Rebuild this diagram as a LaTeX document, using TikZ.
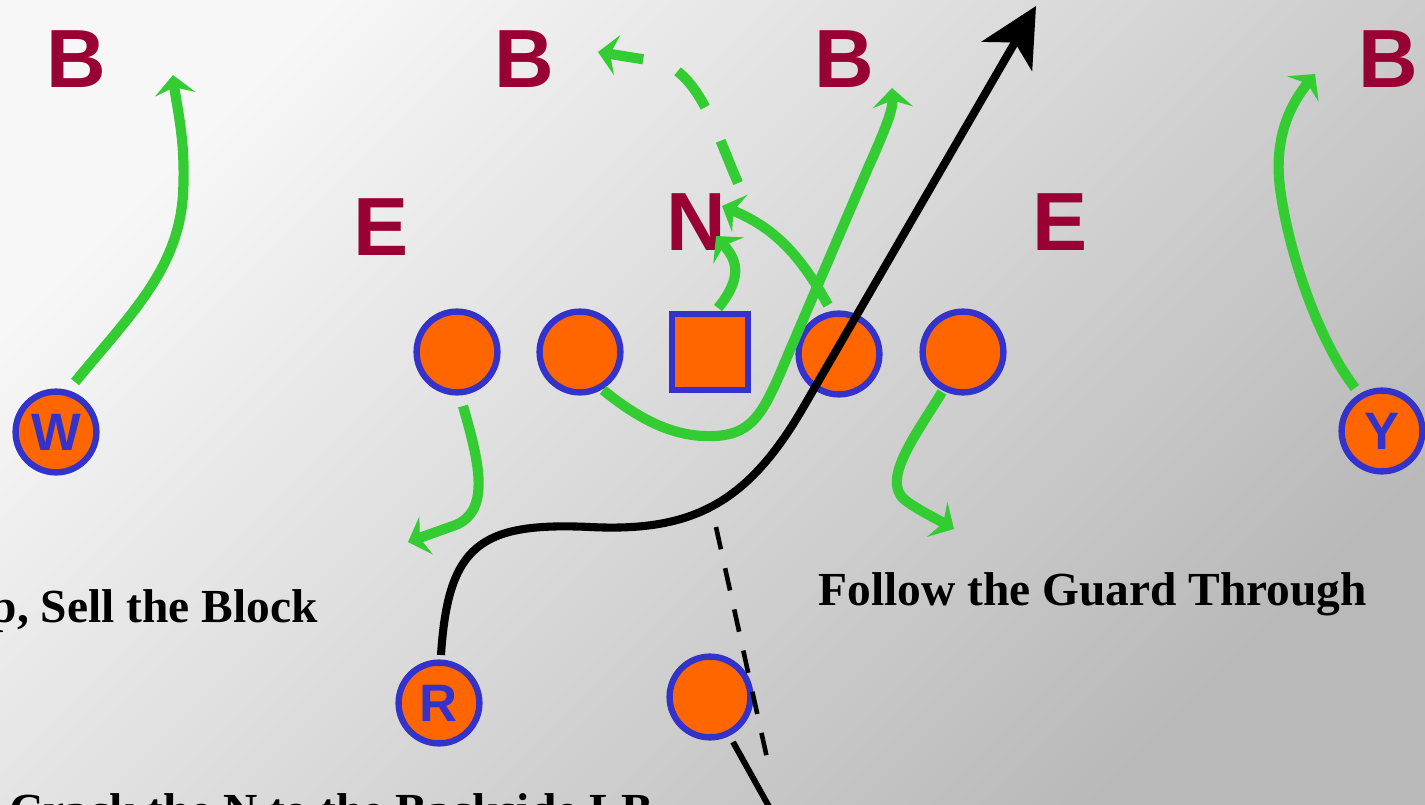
\documentclass[tikz,border=0pt]{standalone}
\usepackage{fontspec}
\setmainfont{Liberation Serif}
\newfontfamily\arialfont{Liberation Sans}
\usetikzlibrary{arrows.meta,calc}
\definecolor{maroon}{HTML}{990033}
\definecolor{rgreen}{HTML}{33CC33}
\definecolor{porange}{HTML}{FF6600}
\definecolor{pblue}{HTML}{3333CC}
\definecolor{bglight}{RGB}{247,247,247}
\definecolor{bgdark}{RGB}{185,185,185}
\begin{document}
\begin{tikzpicture}[x=0.02cm,y=-0.02cm,
  player/.style={circle,fill=porange,draw=pblue,line width=3.6pt,minimum size=46pt,inner sep=0pt,text=pblue,font=\arialfont\bfseries\fontsize{30}{30}\selectfont},
  centerbox/.style={player,rectangle,minimum size=43pt},
  defender/.style={text=maroon,font=\arialfont\bfseries\fontsize{47}{47}\selectfont,inner sep=0pt,anchor=base},
  route/.style={rgreen,line width=5.8pt,-{Stealth[length=11pt,width=23pt,inset=4pt]}},
  dashroute/.style={route,dash pattern=on 26pt off 21pt},
  ballpath/.style={black,line width=4.6pt,-{Stealth[length=33pt,width=33pt,inset=9pt]}},
  note/.style={font=\bfseries\fontsize{27}{27}\selectfont,inner sep=0pt,text=black}]
\clip (0,0) rectangle (1425,804);
\shade[top color=bglight,bottom color=bgdark,shading angle=45] (0,0) rectangle (1425,804);

% defenders
\node[defender] (b1) at (76,88) {B};
\node[defender] (b2) at (524,88) {B};
\node[defender] (b3) at (844,88) {B};
\node[defender] (b4) at (1388,88) {B};
\node[defender] (e1) at (381,255) {E};
\node[defender] (n) at (696,250) {N};
\node[defender] (e2) at (1060,250) {E};

% offense
\node[player] (w) at (56,432) {W};
\node[player] (lt) at (457,352) {};
\node[player] (lg) at (580,352) {};
\node[centerbox] (c) at (710,352) {};
\node[player] (rg) at (839,354) {};
\node[player] (rt) at (963,352) {};
\node[player] (y) at (1382,431) {Y};
\node[player] (r) at (439,703) {R};
\node[player] (qb) at (710,697) {};

% route end points
\coordinate (tW) at (173,75);
\coordinate (tLT) at (408,542);
\coordinate (tLG) at (892,88);
\coordinate (tC) at (716,236);
\coordinate (tRG) at (722,206);
\coordinate (dS) at (738,183);
\coordinate (tD) at (598,52);
\coordinate (tRT) at (954,529);
\coordinate (tY) at (1315,74);
\coordinate (tR) at (1036,6);
\coordinate (hand) at (716,527);
\coordinate (handend) at (767,758);
\coordinate (qbend) at (772,812);

% green routes
\draw[route] ($(w)+(19,-50)$) .. controls (130,315) and (178,270) .. (183,195) .. controls (186,140) and (177,110) .. (tW);
\draw[route] ($(lt)+(6,54)$) .. controls (480,465) and (492,515) .. (450,527) -- (tLT);
\draw[route] ($(lg)+(23,38)$) .. controls (640,420) and (675,438) .. (715,436) .. controls (755,434) and (765,410) .. (790,350) -- (868,168) .. controls (885,130) and (893,110) .. (tLG);
\draw[route] ($(c)+(8,-44)$) .. controls (745,275) and (735,258) .. (tC);
\draw[route] ($(rg)+(-11,-49)$) .. controls (800,255) and (775,228) .. (tRG);
\draw[dashroute] (dS) .. controls (715,130) and (700,75) .. (660,62) -- (tD);
\draw[route] ($(rt)+(-21,40)$) .. controls (918,432) and (880,480) .. (905,500) .. controls (918,510) and (935,518) .. (tRT);
\draw[route] ($(y)+(-27,-43)$) .. controls (1318,340) and (1290,255) .. (1281,195) .. controls (1272,140) and (1290,105) .. (tY);

% ball carrier
\draw[ballpath] ($(r)+(2,-48)$) .. controls (448,545) and (480,522) .. (590,527) .. controls (690,532) and (745,505) .. (800,413) -- (tR);
\draw[black,line width=2.6pt,dash pattern=on 13pt off 11pt] (hand) -- (handend);
\draw[black,line width=3.4pt] ($(qb)+(23,45)$) -- (qbend);

% notes
\node[note,anchor=base west] (t1) at (818,605) {Follow the Guard Through};
\node[note,anchor=base east] (t2) at (318,622) {p, Sell the Block};
\node[note,anchor=base east] (t3) at (653,826) {Crack the N to the Backside LB};
\end{tikzpicture}
\end{document}
